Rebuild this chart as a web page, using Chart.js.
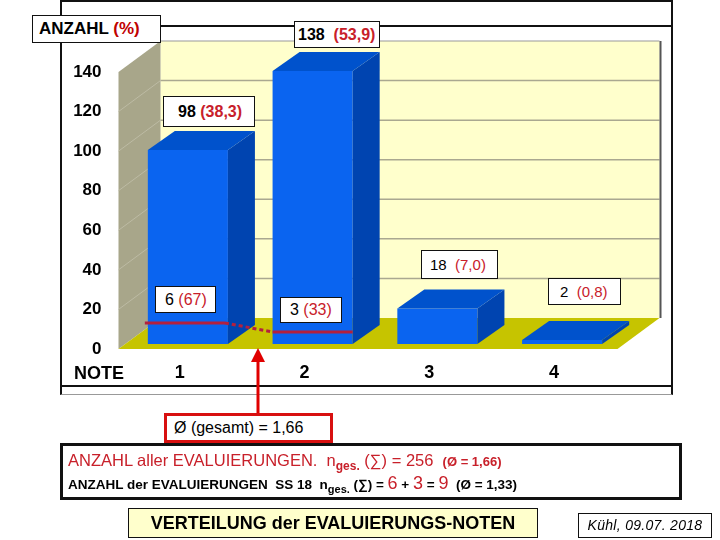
<!DOCTYPE html>
<html>
<head>
<meta charset="utf-8">
<script src="https://cdn.jsdelivr.net/npm/chart.js@4/dist/chart.umd.min.js"></script>
<style>
  body { margin:0; width:720px; height:540px; position:relative; overflow:hidden; background:#fff;
         font-family:"Liberation Sans", Arial, sans-serif; }
  .abs { position:absolute; box-sizing:border-box; }
  .lbl { position:absolute; box-sizing:border-box; background:#fff; border:1px solid #111; white-space:pre; }
  .red { color:#c8202a; }
  #c { position:absolute; left:0; top:0; }
</style>
</head>
<body>
<!-- frames -->
<div class="abs" style="left:60px;top:0;width:613px;height:395px;border:2px solid #111;border-bottom:1px solid #999"></div>
<div class="abs" style="left:60px;top:25px;width:613px;height:362px;border:2px solid #111"></div>

<canvas id="c" width="720" height="540"></canvas>

<!-- labels -->
<div class="lbl" style="left:32px;top:15px;width:129px;height:28px;font:bold 17px 'Liberation Sans';line-height:26px;padding-left:6px;">ANZAHL <span style="color:#c00000">(%)</span></div>
<div class="lbl" id="v1" style="left:294px;top:21px;width:86px;height:27px;font:bold 16px 'Liberation Sans';line-height:25px;padding-left:3px;"></div>
<div class="lbl" id="v0" style="left:163px;top:96px;width:92px;height:31px;font:bold 16px 'Liberation Sans';line-height:29px;padding-left:14px;"></div>
<div class="lbl" id="v2" style="left:421px;top:250px;width:77px;height:29px;font:15px 'Liberation Sans';line-height:27px;padding-left:8px;"></div>
<div class="lbl" id="v3" style="left:548px;top:278px;width:73px;height:27px;font:15px 'Liberation Sans';line-height:25px;padding-left:11px;"></div>
<div class="lbl" id="s0" style="left:155px;top:286px;width:61px;height:27px;font:16px 'Liberation Sans';line-height:25px;padding-left:9px;"></div>
<div class="lbl" id="s1" style="left:280px;top:297px;width:62px;height:26px;font:16px 'Liberation Sans';line-height:24px;padding-left:9px;"></div>

<div class="abs" style="left:74px;top:363px;font:bold 18px 'Liberation Sans';">NOTE</div>

<svg class="abs" style="left:0;top:0" width="720" height="540">
  <line x1="258" y1="360" x2="258" y2="413" stroke="#e00000" stroke-width="3"/>
  <polygon points="258,348 251,362 265,362" fill="#e00000"/>
</svg>

<div class="abs" style="left:164px;top:413px;width:169px;height:30px;border:3px solid #d81010;background:#fff;font:16px 'Liberation Sans';line-height:24px;padding-left:7px;">Ø (gesamt) = 1,66</div>

<div class="abs" style="left:60px;top:443px;width:622px;height:57px;border:3px solid #111;background:#fff"></div>
<div class="abs red" style="left:68px;top:450px;line-height:20px;font-size:16.5px;white-space:pre;">ANZAHL aller EVALUIERUNGEN.  n<sub style="font-size:12px;font-weight:bold">ges.</sub> (∑) = 256  <span style="font-size:13px;font-weight:bold">(Ø = 1,66)</span></div>
<div class="abs" style="left:68px;top:476px;font:bold 13.5px 'Liberation Sans';line-height:18px;white-space:pre;">ANZAHL der EVALUIERUNGEN  SS 18  n<sub style="font-size:11px">ges.</sub> (∑) = <span class="red" style="font-size:18px;font-weight:normal;line-height:10px">6</span> + <span class="red" style="font-size:18px;font-weight:normal;line-height:10px">3</span> = <span class="red" style="font-size:18px;font-weight:normal;line-height:10px">9</span>  (Ø = 1,33)</div>

<div class="abs" style="left:128px;top:508px;width:410px;height:30px;border:1px solid #111;background:#ffffcc;text-align:center;font:bold 18px 'Liberation Sans';line-height:28px;">VERTEILUNG der EVALUIERUNGS-NOTEN</div>
<div class="abs" style="left:578px;top:513px;width:134px;height:25px;border:1px solid #111;text-align:center;font:italic 14px 'Liberation Sans';line-height:23px;letter-spacing:0.3px">Kühl, 09.07. 2018</div>

<script>
// data
const grades = ['1', '2', '3', '4'];
const counts = [98, 138, 18, 2];
const percents = ['38,3', '53,9', '7,0', '0,8'];
const yTicks = [0, 20, 40, 60, 80, 100, 120, 140];
const ss18Counts = [6, 3];
const ss18Share = ['67', '33'];
const ss18Level = [10.6, 6.1];

// value labels
document.getElementById('v0').innerHTML = counts[0] + ' <span class="red">(' + percents[0] + ')</span>';
document.getElementById('v1').innerHTML = counts[1] + '  <span class="red">(' + percents[1] + ')</span>';
document.getElementById('v2').innerHTML = counts[2] + '  <span class="red">(' + percents[2] + ')</span>';
document.getElementById('v3').innerHTML = counts[3] + '  <span class="red">(' + percents[3] + ')</span>';
document.getElementById('s0').innerHTML = ss18Counts[0] + ' <span class="red">(' + ss18Share[0] + ')</span>';
document.getElementById('s1').innerHTML = ss18Counts[1] + ' <span class="red">(' + ss18Share[1] + ')</span>';

// 3d offsets
const depth = { dx: 27, dy: -19 };
const wall = { fx: -7, fy: 5, bx: 35, by: -26 };

function poly(ctx, pts, fill) {
  ctx.beginPath();
  ctx.moveTo(pts[0][0], pts[0][1]);
  for (let i = 1; i < pts.length; i++) ctx.lineTo(pts[i][0], pts[i][1]);
  ctx.closePath();
  ctx.fillStyle = fill;
  ctx.fill();
}

const box3d = {
  id: 'box3d',
  beforeDatasetsDraw(chart) {
    const ctx = chart.ctx, a = chart.chartArea, y = chart.scales.y;
    const y0 = y.getPixelForValue(0), yT = y.getPixelForValue(140);
    const L = a.left, R = a.right;
    ctx.save();
    // back wall
    ctx.fillStyle = '#ffffcc';
    ctx.fillRect(L + wall.bx, yT + wall.by, R - L, y0 - yT);
    ctx.lineWidth = 1.5;
    ctx.strokeStyle = '#aaa890';
    yTicks.forEach(v => {
      if (v === 0 || v === 140) return;
      const p = y.getPixelForValue(v);
      ctx.beginPath();
      ctx.moveTo(L + wall.bx, p + wall.by);
      ctx.lineTo(R + wall.bx, p + wall.by);
      ctx.stroke();
    });
    ctx.strokeStyle = '#999';
    ctx.lineWidth = 1;
    ctx.beginPath();
    ctx.moveTo(L + wall.bx, yT + wall.by);
    ctx.lineTo(R + wall.bx, yT + wall.by);
    ctx.stroke();
    ctx.strokeStyle = '#555';
    ctx.lineWidth = 2;
    ctx.beginPath();
    ctx.moveTo(R + wall.bx + 1, yT + wall.by);
    ctx.lineTo(R + wall.bx + 1, y0 + wall.by);
    ctx.stroke();
    // side wall
    poly(ctx, [[L + wall.fx, yT + wall.fy], [L + wall.bx, yT + wall.by],
               [L + wall.bx, y0 + wall.by], [L + wall.fx, y0 + wall.fy]], '#a8a68a');
    ctx.strokeStyle = '#bdbba4';
    ctx.lineWidth = 1;
    yTicks.forEach(v => {
      if (v === 0 || v === 140) return;
      const p = y.getPixelForValue(v);
      ctx.beginPath();
      ctx.moveTo(L + wall.fx, p + wall.fy);
      ctx.lineTo(L + wall.bx, p + wall.by);
      ctx.stroke();
    });
    // floor
    poly(ctx, [[L + wall.fx, y0 + wall.fy], [R + wall.fx, y0 + wall.fy],
               [R + wall.bx, y0 + wall.by], [L + wall.bx, y0 + wall.by]], '#c6c400');
    ctx.restore();
  },
  afterDatasetsDraw(chart) {
    const ctx = chart.ctx, y = chart.scales.y;
    const meta = chart.getDatasetMeta(0);
    ctx.save();
    meta.data.forEach(bar => {
      const p = bar.getProps(['x', 'y', 'base', 'width'], true);
      const l = p.x - p.width / 2, r = p.x + p.width / 2;
      poly(ctx, [[r, p.y], [r + depth.dx, p.y + depth.dy], [r + depth.dx, p.base + depth.dy], [r, p.base]], '#0044b0');
      poly(ctx, [[l, p.y], [l + depth.dx, p.y + depth.dy], [r + depth.dx, p.y + depth.dy], [r, p.y]], '#0052cc');
    });
    // SS 18 line
    const b0 = meta.data[0], b1 = meta.data[1];
    const w = b0.width;
    const p0 = y.getPixelForValue(ss18Level[0]), p1 = y.getPixelForValue(ss18Level[1]);
    ctx.strokeStyle = '#b4203e';
    ctx.lineWidth = 3;
    ctx.beginPath();
    ctx.moveTo(b0.x - w / 2 - 3, p0);
    ctx.lineTo(b0.x + w / 2 - 3, p0);
    ctx.stroke();
    ctx.setLineDash([4, 3]);
    ctx.beginPath();
    ctx.moveTo(b0.x + w / 2 - 3, p0);
    ctx.lineTo(b1.x - w / 2, p1);
    ctx.stroke();
    ctx.setLineDash([]);
    ctx.beginPath();
    ctx.moveTo(b1.x - w / 2, p1);
    ctx.lineTo(b1.x + w / 2, p1);
    ctx.stroke();
    ctx.restore();
  }
};

new Chart(document.getElementById('c'), {
  type: 'bar',
  data: {
    labels: grades,
    datasets: [{
      data: counts,
      backgroundColor: '#0a64f0',
      borderWidth: 0,
      barPercentage: 0.642,
      categoryPercentage: 1
    }]
  },
  options: {
    responsive: false,
    animation: false,
    layout: { padding: { left: 65.5, right: 95.5, top: 67, bottom: 156 } },
    plugins: { legend: { display: false }, tooltip: { enabled: false } },
    scales: {
      x: {
        grid: { display: false, drawTicks: false, tickLength: 0 },
        border: { display: false },
        afterFit: s => { s.height = 40; },
        ticks: { color: '#000', font: { family: 'Liberation Sans', size: 18, weight: 'bold' },
                 padding: 18, labelOffset: -8 }
      },
      y: {
        min: 0, max: 140,
        grid: { display: false, drawTicks: false, tickLength: 0 },
        border: { display: false },
        afterFit: s => { s.width = 60; },
        ticks: { stepSize: 20, color: '#000', font: { family: 'Liberation Sans', size: 17, weight: 'bold' },
                 padding: 24, labelOffset: 5 }
      }
    }
  },
  plugins: [box3d]
});
</script>
</body>
</html>
